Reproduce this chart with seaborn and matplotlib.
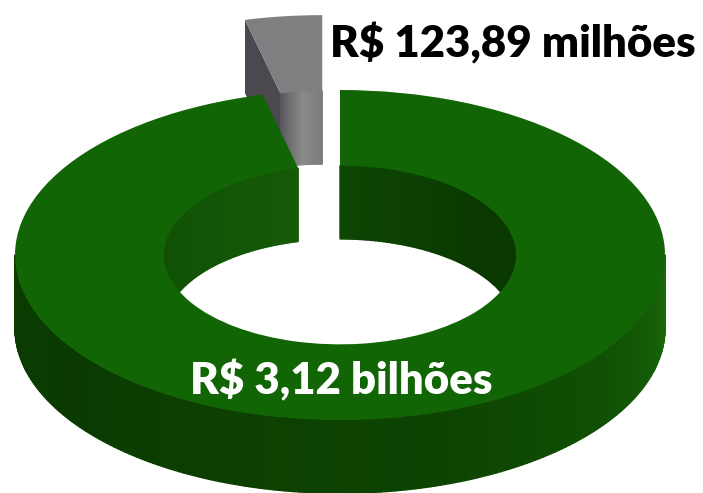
import numpy as np
import matplotlib
matplotlib.use('Agg')
import matplotlib.pyplot as plt
from matplotlib.collections import PolyCollection
import seaborn as sns

labels = ['R$ 3,12 bilhões', 'R$ 123,89 milhões']
values = [3120, 123.89]

sns.set_theme(style='white')
plt.rcParams['font.family'] = ['Lato', 'DejaVu Sans']

HOLE = 0.5415
EXPLODE = 0.457
DEPTH = 0.444

fig = plt.figure(figsize=(7.03, 4.93), dpi=100)
ax = fig.add_axes([0, 0, 1, 1])

wedges, _ = ax.pie(values, startangle=90, counterclock=False, radius=1,
                   explode=[0, EXPLODE], colors=['#126504', '#7f7f81'],
                   wedgeprops=dict(width=1 - HOLE, linewidth=0))
ax.set_aspect('auto')
ax.set_xlim(-340 / 325, 363 / 325)
ax.set_ylim(-238 / 165, 255 / 165)

# angle where the two slices meet
cut = 90 + 360 * values[1] / sum(values)
rad = np.radians((90 + cut) / 2)
gray_dx, gray_dy = EXPLODE * np.cos(rad), EXPLODE * np.sin(rad)


def wall(radius, a0, a1, shades, z, dx=0, dy=0):
    ang = np.radians(np.linspace(a0, a1, len(shades) + 1))
    x = dx + radius * np.cos(ang)
    y = dy + radius * np.sin(ang)
    quads = [[(x[i], y[i]), (x[i + 1], y[i + 1]),
              (x[i + 1], y[i + 1] - DEPTH), (x[i], y[i] - DEPTH)]
             for i in range(len(shades))]
    # thick same colour edges hide the seams between the strips
    ax.add_collection(PolyCollection(quads, facecolors=shades, edgecolors=shades,
                                     linewidths=1.0, zorder=z))


# gray slice
wall(HOLE, 90, cut, sns.blend_palette(['#7c7c7e', '#8a8a8a', '#5c5a5e'], 30), 1, gray_dx, gray_dy)
c, s = np.cos(np.radians(cut)), np.sin(np.radians(cut))
ax.fill([gray_dx + c, gray_dx + HOLE * c, gray_dx + HOLE * c, gray_dx + c],
        [gray_dy + s, gray_dy + HOLE * s, gray_dy + HOLE * s - DEPTH, gray_dy + s - DEPTH],
        color='#4c4850', lw=0, zorder=1.5)
wedges[1].set_zorder(2)

# green ring, walls first
wall(1, 180, 360, sns.blend_palette(['#0a3c00', '#0a3a00', '#0c4000', '#0d4402', '#105004', '#1a680a'], 200), 3)
wall(HOLE, 0, 90, sns.blend_palette(['#093800', '#0a3a00', '#0e4603'], 100), 3)
wall(HOLE, cut, 180, sns.blend_palette(['#155a08', '#125406', '#104e04'], 100), 3)
wedges[0].set_zorder(4)

fig.text(330 / 703, 1 - 57 / 493, labels[1], fontsize=31.5, fontweight='heavy', color='black', va='baseline', zorder=5)
fig.text(190 / 703, 1 - 394 / 493, labels[0], fontsize=31.5, fontweight='heavy', color='white', va='baseline', zorder=5)

fig.savefig('out.png', dpi=100)
